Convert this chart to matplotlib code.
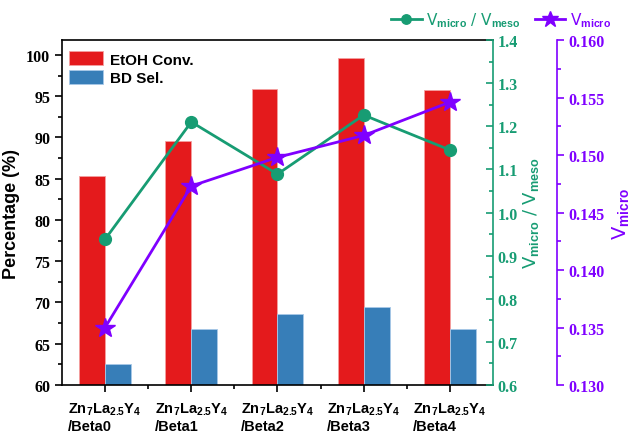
import matplotlib.pyplot as plt
import numpy as np
from matplotlib.ticker import MultipleLocator, FixedLocator

plt.rcParams['mathtext.fontset'] = 'custom'
plt.rcParams['mathtext.rm'] = 'Liberation Sans:bold'
plt.rcParams['mathtext.default'] = 'rm'

samples = ['Beta0', 'Beta1', 'Beta2', 'Beta3', 'Beta4']
etoh_conv = [85.3, 89.6, 95.9, 99.6, 95.8]
bd_sel = [62.6, 66.8, 68.6, 69.4, 66.8]
v_ratio = [0.938, 1.21, 1.089, 1.226, 1.145]
v_micro = [0.1350, 0.1473, 0.1498, 0.1517, 0.1546]

red = '#e41a1c'
blue = '#377eb8'
green = '#179c73'
purple = '#7f00ff'
serif = 'Liberation Serif'
sans = 'Liberation Sans'

fig = plt.figure(figsize=(6.41, 4.35), dpi=100)
ax = fig.add_axes([0.0967, 0.1126, 0.6724, 0.7931])

x = np.arange(len(samples))
w = 0.3
ax.bar(x - w/2, etoh_conv, w, color=red, edgecolor='#f4a0a0', linewidth=0.6, label='EtOH Conv.')
ax.bar(x + w/2, bd_sel, w, color=blue, edgecolor='#a8c8e8', linewidth=0.6, label='BD Sel.')

ax.set_xlim(-0.5, 4.5)
ax.set_ylim(60, 101.8)
ax.set_xticks(x)
ax.set_xticklabels([r'Zn$_7$La$_{2.5}$Y$_4$' + '\n/' + s for s in samples],
                   fontfamily=sans, fontweight='bold', fontsize=10.5, multialignment='left', linespacing=1.25)
ax.xaxis.set_minor_locator(FixedLocator(x[:-1] + 0.5))
ax.yaxis.set_major_locator(MultipleLocator(5))
ax.yaxis.set_minor_locator(MultipleLocator(2.5))
ax.tick_params(axis='both', which='major', direction='out', length=5, width=1.2)
ax.tick_params(axis='both', which='minor', direction='out', length=3, width=1.2)
ax.tick_params(axis='x', pad=6)
for lbl in ax.get_yticklabels():
    lbl.set_fontfamily(serif)
    lbl.set_fontweight('bold')
    lbl.set_fontsize(11.5)
ax.set_ylabel('Percentage (%)', fontfamily=sans, fontweight='bold', fontsize=13)
for s in ['left', 'bottom', 'top']:
    ax.spines[s].set_linewidth(1.2)
ax.spines['right'].set_visible(False)

ax.legend(loc='upper left', frameon=False, prop={'family': sans, 'weight': 'bold', 'size': 11},
          handlelength=2.2, handleheight=1.05, handletextpad=0.45, labelspacing=0.2,
          borderaxespad=0, borderpad=0.4, bbox_to_anchor=(0.003, 0.985))

# green axis
ax2 = ax.twinx()
l1, = ax2.plot(x, v_ratio, color=green, lw=2, marker='o', ms=8.5, mfc=green, mec=green,
               label=r'V$_{micro}$ / V$_{meso}$')
ax2.set_ylim(0.6, 1.4)
ax2.yaxis.set_major_locator(MultipleLocator(0.1))
ax2.yaxis.set_minor_locator(MultipleLocator(0.05))
ax2.tick_params(axis='y', which='major', direction='in', length=5, width=1.2, colors=green)
ax2.tick_params(axis='y', which='minor', direction='in', length=3, width=1.2, colors=green)
ax2.spines['right'].set_color(green)
ax2.spines['right'].set_linewidth(1.2)
for s in ['left', 'top', 'bottom']:
    ax2.spines[s].set_visible(False)
for lbl in ax2.get_yticklabels():
    lbl.set_fontfamily(serif)
    lbl.set_fontweight('bold')
    lbl.set_fontsize(11.5)
ax2.set_ylabel(r'V$_{micro}$ / V$_{meso}$', color=green, fontsize=13, labelpad=2)

# purple axis
ax3 = ax.twinx()
l2, = ax3.plot(x, v_micro, color=purple, lw=2, marker='*', ms=15, mfc=purple, mec=purple,
               label=r'V$_{micro}$')
ax3.set_ylim(0.130, 0.160)
ax3.spines['right'].set_position(('outward', 46))
ax3.spines['right'].set_color(purple)
ax3.spines['right'].set_linewidth(1.2)
for s in ['left', 'top', 'bottom']:
    ax3.spines[s].set_visible(False)
ax3.yaxis.set_major_locator(MultipleLocator(0.005))
ax3.yaxis.set_minor_locator(MultipleLocator(0.0025))
ax3.yaxis.set_major_formatter(plt.FormatStrFormatter('%.3f'))
ax3.tick_params(axis='y', which='major', direction='out', length=5, width=1.2, colors=purple)
ax3.tick_params(axis='y', which='minor', direction='out', length=3, width=1.2, colors=purple)
for lbl in ax3.get_yticklabels():
    lbl.set_fontfamily(serif)
    lbl.set_fontweight('bold')
    lbl.set_fontsize(11.5)
ax3.set_ylabel(r'V$_{micro}$', color=purple, fontsize=14, labelpad=4)

leg = fig.legend(handles=[l1, l2], loc='upper right', bbox_to_anchor=(0.975, 1.005), ncol=2,
                 frameon=False, labelcolor='linecolor', fontsize=11, handlelength=2.0,
                 handletextpad=0.3, columnspacing=0.9, markerscale=0.8)

fig.savefig('out.png', dpi=100)
